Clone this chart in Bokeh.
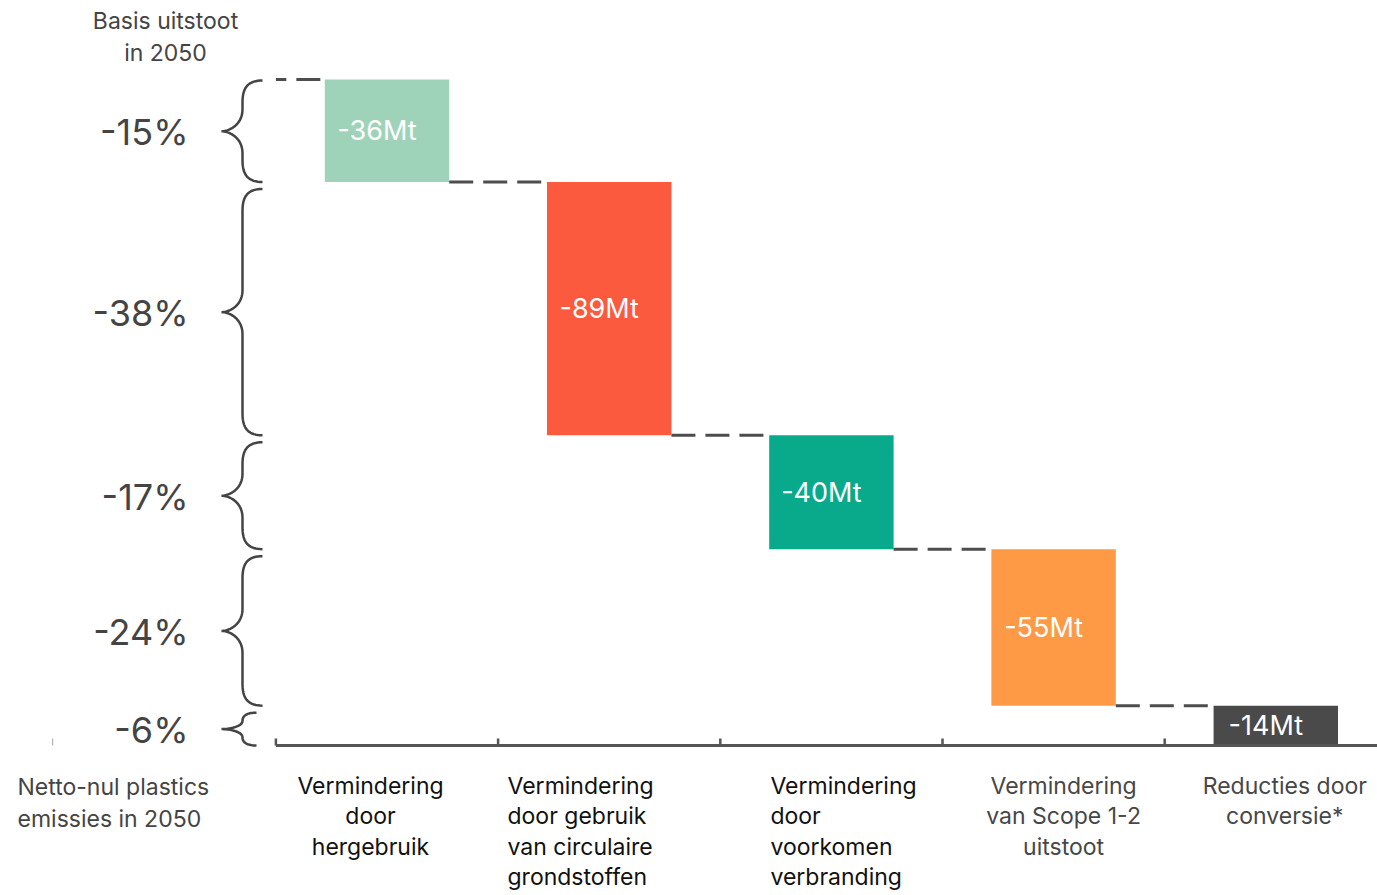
import numpy as np
from bokeh.plotting import figure
from bokeh.models import Range1d
from bokeh.core.properties import value
from bokeh.embed import file_html
from bokeh.resources import INLINE

# ---------------- data ----------------
categories = [
    "Vermindering\ndoor\nhergebruik",
    "Vermindering\ndoor gebruik\nvan circulaire\ngrondstoffen",
    "Vermindering\ndoor\nvoorkomen\nverbranding",
    "Vermindering\nvan Scope 1-2\nuitstoot",
    "Reducties door\nconversie*",
]
reductions = [36, 89, 40, 55, 14]          # Mt
bar_labels = ["-36Mt", "-89Mt", "-40Mt", "-55Mt", "-14Mt"]
pct_labels = ["-15%", "-38%", "-17%", "-24%", "-6%"]
bar_colors = ["#9fd3b9", "#fb5a3f", "#09aa8b", "#fe9945", "#4a4a4a"]
cat_colors = ["#111111", "#111111", "#111111", "#474747", "#474747"]
top_label = "Basis uitstoot\nin 2050"
bottom_label = "Netto-nul plastics\nemissies in 2050"

FONT = value("Inter")

# ---------------- layout helpers (page pixels -> data) ----------------
W, H = 1377, 895
OFF = 0
BAND = 222.2
X0 = 386.5
PPM = 2.846          # pixels per Mt
BASE = 745.0

def dx(px):
    return (px - X0) / BAND

def dy(py):
    return (BASE - py) / PPM

total = float(sum(reductions))
tops = [total - sum(reductions[:i]) for i in range(len(reductions))]
bottoms = [t - r for t, r in zip(tops, reductions)]
idx = np.arange(len(reductions))

p = figure(width=W, height=H, output_backend="svg", toolbar_location=None,
           x_range=Range1d(dx(OFF), dx(OFF + W)), y_range=Range1d(dy(OFF + H), dy(OFF)),
           x_axis_type=None, y_axis_type=None, min_border=0)
p.outline_line_color = None
p.grid.visible = False
p.background_fill_color = "white"
p.border_fill_color = "white"

# bars
bw = 0.56
p.vbar(x=idx, width=bw, top=tops, bottom=bottoms, fill_color=bar_colors, line_color=None)

# bar value labels
mids = [(t + b) / 2 for t, b in zip(tops, bottoms)]
p.text(x=idx - 0.045, y=mids, text=bar_labels, text_align="center", text_baseline="middle",
       text_color="white", text_font=FONT, text_font_size="27px")

# dashed connectors
dash_col = "#4d4d4d"
for i in range(len(reductions) - 1):
    p.line(x=[i + bw / 2, i + 1 - bw / 2], y=[bottoms[i], bottoms[i]],
           line_dash="24 10", line_width=3, line_color=dash_col)
p.line(x=[-bw / 2 - 0.02, -0.5], y=[total, total], line_dash="24 10", line_width=3,
       line_color=dash_col)

# baseline axis
p.line(x=[-0.5, 4.6], y=[0, 0], line_width=3, line_color="#555555")
tick_h = 7 / PPM
p.segment(x0=idx - 0.5, y0=[0] * len(idx), x1=idx - 0.5, y1=[tick_h] * len(idx),
          line_width=2.5, line_color="#555555")
p.segment(x0=[-1.505], y0=[0], x1=[-1.505], y1=[tick_h], line_width=1.2, line_color="#b5b5b5")

# braces
def brace(t_px, b_px, xe=262.0, xs=242.0, xt=221.0):
    m = (t_px + b_px) / 2
    half = (b_px - t_px) / 2
    r = min(22.0, half / 2)
    xe_ = xe if half > 30 else xe - 6
    def cubic(P0, P1, P2, P3, n=20):
        tt = np.linspace(0, 1, n)[:, None]
        P = ((1 - tt) ** 3) * np.array(P0) + 3 * ((1 - tt) ** 2) * tt * np.array(P1) \
            + 3 * (1 - tt) * tt ** 2 * np.array(P2) + tt ** 3 * np.array(P3)
        return P
    segs = [
        cubic((xe_, t_px), (xs + 4, t_px), (xs, t_px + r * 0.4), (xs, t_px + r)),
        np.array([[xs, t_px + r], [xs, m - r]]),
        cubic((xs, m - r), (xs, m - r * 0.3), (xt + 8, m), (xt, m)),
        cubic((xt, m), (xt + 8, m), (xs, m + r * 0.3), (xs, m + r)),
        np.array([[xs, m + r], [xs, b_px - r]]),
        cubic((xs, b_px - r), (xs, b_px - r * 0.4), (xs + 4, b_px), (xe_, b_px)),
    ]
    P = np.vstack(segs)
    return [dx(v) for v in P[:, 0]], [dy(v) for v in P[:, 1]]

bxs, bys, pct_y = [], [], []
for i in range(len(reductions)):
    t_px = BASE - tops[i] * PPM + (1 if i == 0 else 7)
    b_px = BASE - bottoms[i] * PPM
    xs_, ys_ = brace(t_px, b_px)
    bxs.append(xs_)
    bys.append(ys_)
    pct_y.append(dy((t_px + b_px) / 2 + 1))
p.multi_line(xs=bxs, ys=bys, line_width=2.5, line_color="#444444")

# percentage labels
p.text(x=[dx(188)] * len(pct_labels), y=pct_y, text=pct_labels, text_align="right",
       text_baseline="middle", text_color="#444444", text_font=FONT, text_font_size="36px")

# side labels
p.text(x=[dx(165)], y=[dy(36.5)], text=[top_label], text_align="center", text_baseline="middle",
       text_color="#444444", text_font=FONT, text_font_size="23px", text_line_height=1.13)
p.text(x=[dx(17)], y=[dy(802.5)], text=[bottom_label], text_align="left", text_baseline="middle",
       text_color="#444444", text_font=FONT, text_font_size="23px", text_line_height=1.13)

# category labels
offs = [-16.5, -101.7, -61.0, 10.0, 9.0]
aligns = ["center", "left", "left", "center", "center"]
for i, lab in enumerate(categories):
    p.text(x=[i + offs[i] / BAND], y=[dy(771)], text=[lab], text_align=aligns[i],
           text_baseline="top", text_color=cat_colors[i], text_font=FONT,
           text_font_size="23px", text_line_height=1.09)

open("out.html", "w").write(file_html(p, INLINE))
